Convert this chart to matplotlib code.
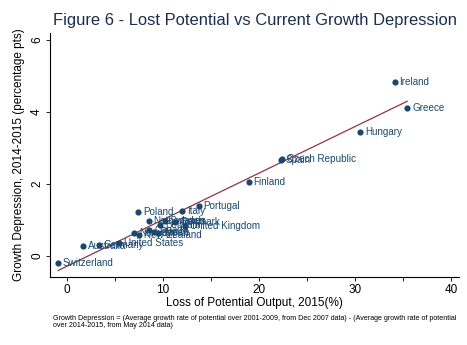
import numpy as np
import matplotlib
matplotlib.use("Agg")
import matplotlib.pyplot as plt

plt.rcParams["font.family"] = ["Liberation Sans", "DejaVu Sans"]

NAVY = "#1a476f"
MAROON = "#90353b"

countries = [
    "Switzerland", "Australia", "Germany", "United States", "Norway",
    "New Zealand", "Canada", "Netherlands", "Japan", "Belgium", "France",
    "Sweden", "Denmark", "United Kingdom", "Poland", "Italy", "Portugal",
    "Finland", "Spain", "Czech Republic", "Hungary", "Ireland", "Greece",
]
lost_potential = [
    -0.9, 1.7, 3.3, 5.4, 7.0,
    7.5, 8.6, 8.5, 9.5, 9.7, 9.1,
    10.2, 11.3, 12.3, 7.4, 12.0, 13.7,
    18.9, 22.3, 22.4, 30.5, 34.1, 35.4,
]
growth_depression = [
    -0.19, 0.28, 0.30, 0.37, 0.65,
    0.58, 0.72, 0.97, 0.64, 0.86, 0.68,
    0.97, 0.94, 0.85, 1.23, 1.25, 1.39,
    2.06, 2.66, 2.71, 3.45, 4.82, 4.12,
]

x = np.array(lost_potential)
y = np.array(growth_depression)
slope, intercept = np.polyfit(x, y, 1)
xfit = np.array([x.min(), x.max()])

fig = plt.figure(figsize=(4.67, 3.45), dpi=100)
ax = fig.add_axes([0.107, 0.197, 0.876, 0.707])

ax.plot(xfit, slope * xfit + intercept, color=MAROON, lw=0.9, zorder=2)
ax.scatter(x, y, s=20, color=NAVY, zorder=3, linewidths=0)
for name, xi, yi in zip(countries, x, y):
    ax.annotate(name, (xi, yi), xytext=(3.5, 0), textcoords="offset points",
                va="center", ha="left", fontsize=7.1, color=NAVY, zorder=4)

ax.set_xlim(-1.75, 40.8)
ax.set_ylim(-0.58, 6.19)
ax.set_xticks([0, 10, 20, 30, 40])
ax.set_xticks([5, 15, 25, 35], minor=True)
ax.set_yticks([0, 2, 4, 6])
ax.tick_params(axis="both", which="both", direction="out", length=3,
               width=0.6, labelsize=8.5, colors="black", pad=2)
ax.tick_params(axis="y", labelrotation=90)
for lab in ax.get_yticklabels():
    lab.set_va("center")
for s in ("top", "right"):
    ax.spines[s].set_visible(False)
for s in ("left", "bottom"):
    ax.spines[s].set_linewidth(0.8)

ax.set_xlabel("Loss of Potential Output, 2015(%)", fontsize=8.5, labelpad=1)
ax.set_ylabel("Growth Depression, 2014-2015 (percentage pts)", fontsize=8.5,
              labelpad=4)

fig.text(0.546, 0.94, "Figure 6 - Lost Potential vs Current Growth Depression",
         ha="center", va="center", fontsize=11.9, color="#1e2d4f")
fig.text(0.113, 0.067,
         "Growth Depression = (Average growth rate of potential over 2001-2009, "
         "from Dec 2007 data) - (Average growth rate of potential\n"
         "over 2014-2015, from May 2014 data)",
         ha="left", va="center", fontsize=5.1, linespacing=1.0)

fig.savefig("out.png", dpi=100)
